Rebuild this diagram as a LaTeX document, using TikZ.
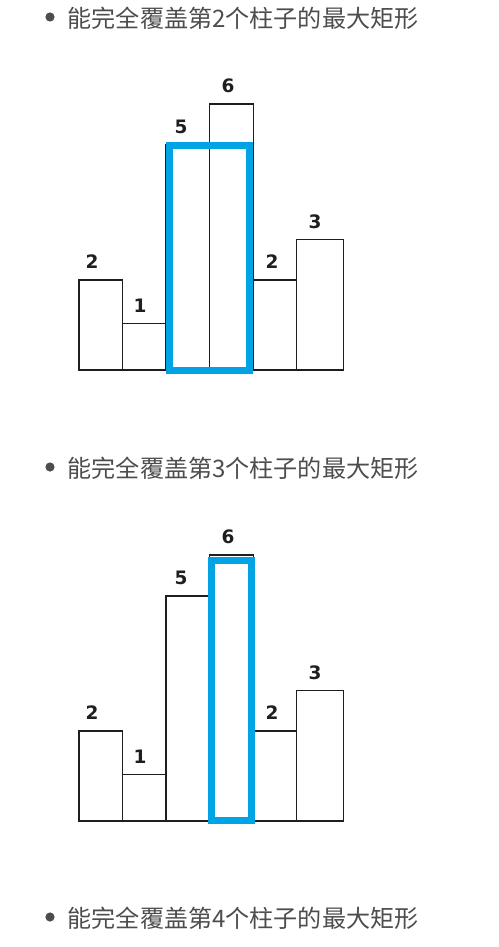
\documentclass[tikz,border=0pt]{standalone}
\usepackage{fontspec}
\newfontfamily\cjkfont{Noto Sans CJK SC}
\newfontfamily\numfont{DejaVu Sans}[BoldFont={DejaVu Sans Bold}]
\definecolor{headgray}{RGB}{77,77,77}
\definecolor{hlblue}{RGB}{0,163,228}
\definecolor{barline}{RGB}{30,30,30}
\tikzset{
  bar/.style={draw=barline, line width=1.3pt},
  hl/.style={draw=hlblue, line width=7pt},
  val/.style={font=\numfont\bfseries\fontsize{18.5}{18.5}\selectfont, text=black!88, inner sep=0pt, anchor=center},
  heading/.style={font=\cjkfont\fontsize{24.1}{25}\selectfont, text=headgray, inner sep=0pt, anchor=west},
  bulletdot/.style={fill=headgray, draw=none}
}
\begin{document}
\begin{tikzpicture}[x=1pt,y=-1pt]
\useasboundingbox (0,0) rectangle (498,947);
% headings
\fill[bulletdot] (50,17) circle (4.6);
\node[heading] (h1) at (67.5,18) {能完全覆盖第2个柱子的最大矩形};
\fill[bulletdot] (50,467) circle (4.6);
\node[heading] (h2) at (67.5,468) {能完全覆盖第3个柱子的最大矩形};
\fill[bulletdot] (50,917) circle (4.6);
\node[heading] (h3) at (67.5,918) {能完全覆盖第4个柱子的最大矩形};
% chart 1 (base y = 370)
\begin{scope}
\draw[bar] (79,370) rectangle (122.7,280);
\draw[bar] (122.7,370) rectangle (166,323.3);
\draw[bar] (166,370) rectangle (209.3,145);
\draw[bar] (209.3,370) rectangle (253.3,104);
\draw[bar] (253.3,370) rectangle (296.7,280);
\draw[bar] (296.7,370) rectangle (343.3,239.3);
\draw[hl] (169.5,145) rectangle (249.8,370);
\node[val] (a1) at (92,262) {2};
\node[val] (a2) at (140,306) {1};
\node[val] (a3) at (181,127) {5};
\node[val] (a4) at (228,86) {6};
\node[val] (a5) at (272,262) {2};
\node[val] (a6) at (315,222) {3};
\end{scope}
% chart 2 (base y = 821)
\begin{scope}
\draw[bar] (79,821) rectangle (122.7,731);
\draw[bar] (122.7,821) rectangle (166,774.3);
\draw[bar] (166,821) rectangle (209.3,596);
\draw[bar] (209.3,821) rectangle (253.3,555);
\draw[bar] (253.3,821) rectangle (296.7,731);
\draw[bar] (296.7,821) rectangle (343.3,690.7);
\draw[hl] (211.3,560) rectangle (251.7,820.5);
\node[val] (b1) at (92,713) {2};
\node[val] (b2) at (140,757) {1};
\node[val] (b3) at (181,578) {5};
\node[val] (b4) at (228,537) {6};
\node[val] (b5) at (272,713) {2};
\node[val] (b6) at (315,673) {3};
\end{scope}
\end{tikzpicture}
\end{document}
